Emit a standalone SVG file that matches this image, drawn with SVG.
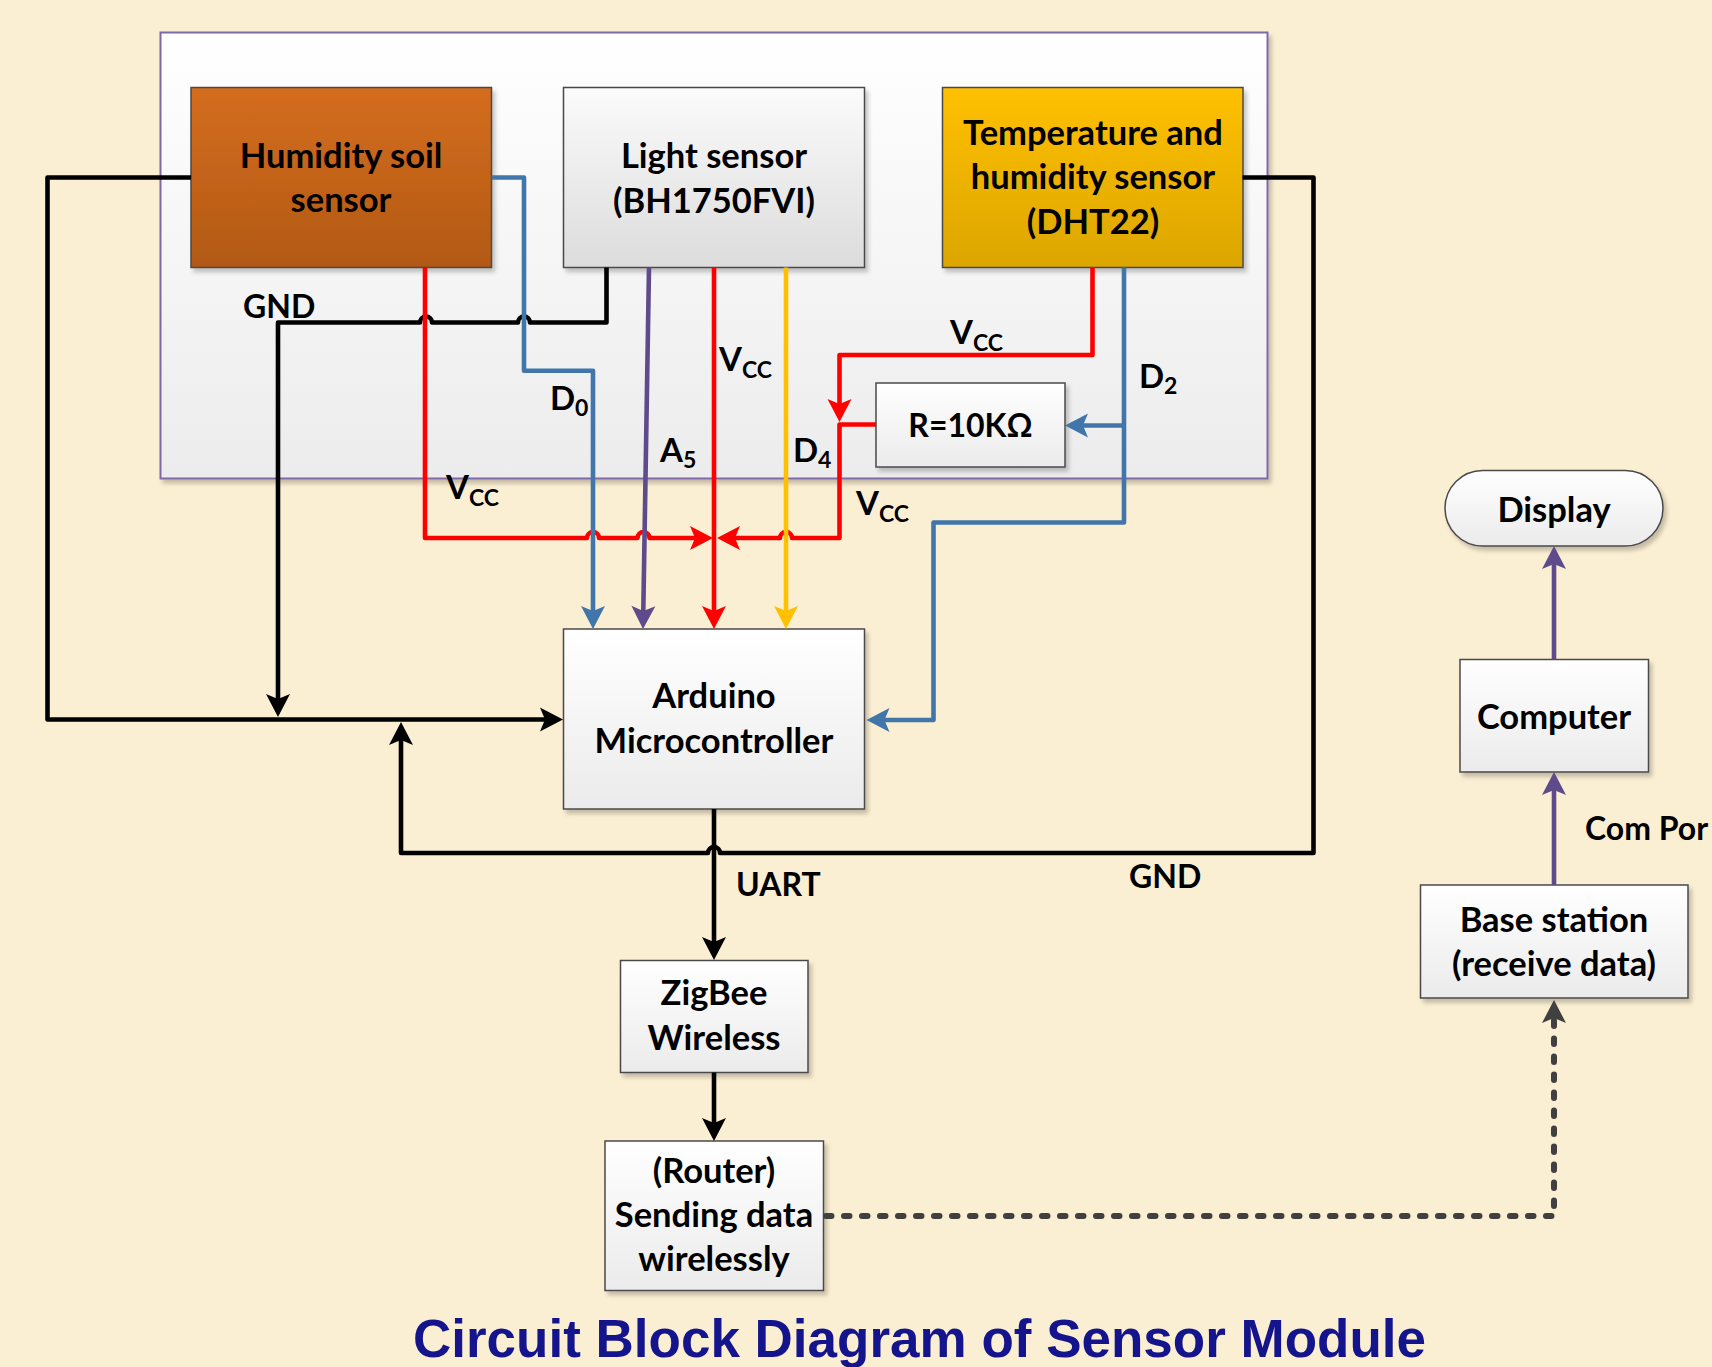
<svg xmlns="http://www.w3.org/2000/svg" width="1712" height="1367" viewBox="0 0 1712 1367">
<style>
.bx{stroke:#4a4a4a;stroke-width:1.5;filter:url(#sh)}
.t{font-family:Lato,"Open Sans","Liberation Sans",sans-serif;font-weight:bold;font-size:34.5px;fill:#000;text-anchor:middle}
.l{font-family:Lato,"Open Sans","Liberation Sans",sans-serif;font-weight:bold;font-size:32px;fill:#000}
.s{font-family:Lato,"Open Sans","Liberation Sans",sans-serif;font-weight:bold;font-size:33px;fill:#000}
.sub{font-size:23px}
.w{fill:none;stroke-width:4.6;stroke-linejoin:round}
.k{stroke:#000}
.r{stroke:#ff0000}
.b{stroke:#4176aa}
.p{stroke:#5f4b8b}
.y{stroke:#ffc000}
</style>
<defs>
<filter id="sh" x="-10%" y="-10%" width="130%" height="130%">
<feDropShadow dx="3" dy="4" stdDeviation="2" flood-color="#000" flood-opacity="0.22"/>
</filter>
<linearGradient id="gPanel" x1="0" y1="0" x2="0" y2="1"><stop offset="0" stop-color="#ffffff"/><stop offset="1" stop-color="#ececec"/></linearGradient>
<linearGradient id="gGray" x1="0" y1="0" x2="0" y2="1"><stop offset="0" stop-color="#fbfbfb"/><stop offset="1" stop-color="#dcdcdc"/></linearGradient>
<linearGradient id="gWhite" x1="0" y1="0" x2="0" y2="1"><stop offset="0" stop-color="#ffffff"/><stop offset="1" stop-color="#ebebeb"/></linearGradient>
<linearGradient id="gOrange" x1="0" y1="0" x2="0" y2="1"><stop offset="0" stop-color="#d46d1b"/><stop offset="1" stop-color="#b25918"/></linearGradient>
<linearGradient id="gYellow" x1="0" y1="0" x2="0" y2="1"><stop offset="0" stop-color="#ffc000"/><stop offset="1" stop-color="#dca600"/></linearGradient>
<marker id="aK" markerUnits="userSpaceOnUse" viewBox="-12 -13 25 26" refX="0" refY="0" markerWidth="25" markerHeight="26" orient="auto"><path d="M12,0 L-11,-12 L-6,0 L-11,12 Z" fill="#000"/></marker>
<marker id="aR" markerUnits="userSpaceOnUse" viewBox="-12 -13 25 26" refX="0" refY="0" markerWidth="25" markerHeight="26" orient="auto"><path d="M12,0 L-11,-12 L-6,0 L-11,12 Z" fill="#ff0000"/></marker>
<marker id="aB" markerUnits="userSpaceOnUse" viewBox="-12 -13 25 26" refX="0" refY="0" markerWidth="25" markerHeight="26" orient="auto"><path d="M12,0 L-11,-12 L-6,0 L-11,12 Z" fill="#4176aa"/></marker>
<marker id="aP" markerUnits="userSpaceOnUse" viewBox="-12 -13 25 26" refX="0" refY="0" markerWidth="25" markerHeight="26" orient="auto"><path d="M12,0 L-11,-12 L-6,0 L-11,12 Z" fill="#5f4b8b"/></marker>
<marker id="aY" markerUnits="userSpaceOnUse" viewBox="-12 -13 25 26" refX="0" refY="0" markerWidth="25" markerHeight="26" orient="auto"><path d="M12,0 L-11,-12 L-6,0 L-11,12 Z" fill="#ffc000"/></marker>
<marker id="aD" markerUnits="userSpaceOnUse" viewBox="-12 -13 25 26" refX="0" refY="0" markerWidth="25" markerHeight="26" orient="auto"><path d="M12,0 L-11,-12 L-6,0 L-11,12 Z" fill="#404040"/></marker>
</defs>
<rect x="0" y="0" width="1712" height="1367" fill="#fbefd3"/>

<g id="panel">
<rect x="160.5" y="32.5" width="1107" height="446" fill="url(#gPanel)" stroke="#7f68a8" stroke-width="2" filter="url(#sh)"/>
</g>

<g id="humidity-soil-sensor">
<rect class="bx" x="191" y="87.5" width="300.5" height="180" fill="url(#gOrange)"/>
<text class="t" x="341" y="168">Humidity soil</text>
<text class="t" x="341" y="212">sensor</text>
</g>
<g id="light-sensor">
<rect class="bx" x="563.5" y="87.5" width="301" height="180" fill="url(#gGray)"/>
<text class="t" x="714" y="168">Light sensor</text>
<text class="t" x="714" y="213">(BH1750FVI)</text>
</g>
<g id="temp-humidity-sensor">
<rect class="bx" x="942.5" y="87.5" width="300.5" height="180" fill="url(#gYellow)"/>
<text class="t" x="1093" y="145">Temperature and</text>
<text class="t" x="1093" y="189">humidity sensor</text>
<text class="t" x="1093" y="234">(DHT22)</text>
</g>
<g id="resistor">
<rect class="bx" x="876" y="383" width="189" height="84" fill="url(#gWhite)"/>
<text class="t" x="970.5" y="437" style="font-size:32px">R=10KΩ</text>
</g>
<g id="arduino">
<rect class="bx" x="563.5" y="629" width="301" height="180" fill="url(#gWhite)"/>
<text class="t" x="714" y="708">Arduino</text>
<text class="t" x="714" y="753">Microcontroller</text>
</g>
<g id="zigbee">
<rect class="bx" x="620.5" y="960.5" width="187.5" height="112" fill="url(#gWhite)"/>
<text class="t" x="714" y="1005">ZigBee</text>
<text class="t" x="714" y="1050">Wireless</text>
</g>
<g id="router">
<rect class="bx" x="605" y="1141" width="218.5" height="149.5" fill="url(#gWhite)"/>
<text class="t" x="714" y="1183">(Router)</text>
<text class="t" x="714" y="1227">Sending data</text>
<text class="t" x="714" y="1271">wirelessly</text>
</g>
<g id="display">
<rect class="bx" x="1445" y="470.5" width="218" height="75.5" rx="37.7" ry="37.7" fill="url(#gWhite)"/>
<text class="t" x="1554" y="522">Display</text>
</g>
<g id="computer">
<rect class="bx" x="1460" y="659.5" width="188.5" height="112.5" fill="url(#gWhite)"/>
<text class="t" x="1554" y="729">Computer</text>
</g>
<g id="base-station">
<rect class="bx" x="1420.5" y="885" width="267.5" height="113" fill="url(#gWhite)"/>
<text class="t" x="1554" y="932">Base station</text>
<text class="t" x="1554" y="976">(receive data)</text>
</g>

<g id="connectors">
<path class="w k" d="M191,177.5 L47.5,177.5 L47.5,719.5 L551,719.5" marker-end="url(#aK)"/>
<path class="w k" d="M606.5,267.5 L606.5,322.5 L530,322.5 A6,6 0 0 0 518,322.5 L432,322.5 A6,6 0 0 0 420,322.5 L278,322.5 L278,705" marker-end="url(#aK)"/>
<path class="w k" d="M1242.5,177.5 L1313.5,177.5 L1313.5,853 L720,853 A6,6 0 0 0 708,853 L401,853 L401,734" marker-end="url(#aK)"/>
<path class="w k" d="M714,809 L714,948" marker-end="url(#aK)"/>
<path class="w k" d="M714,1072.5 L714,1129" marker-end="url(#aK)"/>
<path class="w r" d="M425,267.5 L425,538 L587,538 A6,6 0 0 1 599,538 L637.5,538 A6,6 0 0 1 649.5,538 L701,538" marker-end="url(#aR)"/>
<path class="w r" d="M714,267.5 L714,617" marker-end="url(#aR)"/>
<path class="w r" d="M1092.5,267.5 L1092.5,355 L839.5,355 L839.5,410" marker-end="url(#aR)"/>
<path class="w r" d="M876,424.5 L839.5,424.5 L839.5,538 L792,538 A6,6 0 0 0 780,538 L729,538" marker-end="url(#aR)"/>
<path class="w b" d="M491.5,177.5 L524,177.5 L524,370.7 L593,370.7 L593,617" marker-end="url(#aB)"/>
<path class="w b" d="M1124,267.5 L1124,522.5 L933.5,522.5 L933.5,720 L878.5,720" marker-end="url(#aB)"/>
<path class="w b" d="M1124,425.5 L1077,425.5" marker-end="url(#aB)"/>
<path class="w p" d="M649,267.5 L643.2,617" marker-end="url(#aP)"/>
<path class="w y" d="M786,267.5 L786,617" marker-end="url(#aY)"/>
<path class="w p" d="M1554,885 L1554,784" marker-end="url(#aP)"/>
<path class="w p" d="M1554,659.5 L1554,558" marker-end="url(#aP)"/>
<path d="M826,1216 L1554,1216 L1554,1012" fill="none" stroke="#404040" stroke-width="6" stroke-linecap="round" stroke-linejoin="round" stroke-dasharray="5.5 12.5" marker-end="url(#aD)"/>
</g>

<g id="labels">
<text class="l" x="243" y="318">GND</text>
<text class="l" x="1129" y="888">GND</text>
<text class="l" x="736" y="896">UART</text>
<text class="l" x="1585" y="840">Com Por</text>
<text class="s" x="446" y="499">V<tspan class="sub" dy="7">CC</tspan></text>
<text class="s" x="719" y="371">V<tspan class="sub" dy="7">CC</tspan></text>
<text class="s" x="950" y="344">V<tspan class="sub" dy="7">CC</tspan></text>
<text class="s" x="856" y="515">V<tspan class="sub" dy="7">CC</tspan></text>
<text class="s" x="550" y="410">D<tspan class="sub" dy="6">0</tspan></text>
<text class="s" x="660" y="462">A<tspan class="sub" dy="6">5</tspan></text>
<text class="s" x="793" y="462">D<tspan class="sub" dy="6">4</tspan></text>
<text class="s" x="1139" y="388">D<tspan class="sub" dy="6">2</tspan></text>
</g>

<g id="title">
<text x="919.5" y="1357" text-anchor="middle" font-family="'Liberation Sans',Arial,sans-serif" font-weight="bold" font-size="53" fill="#14148c">Circuit Block Diagram of Sensor Module</text>
</g>
</svg>
